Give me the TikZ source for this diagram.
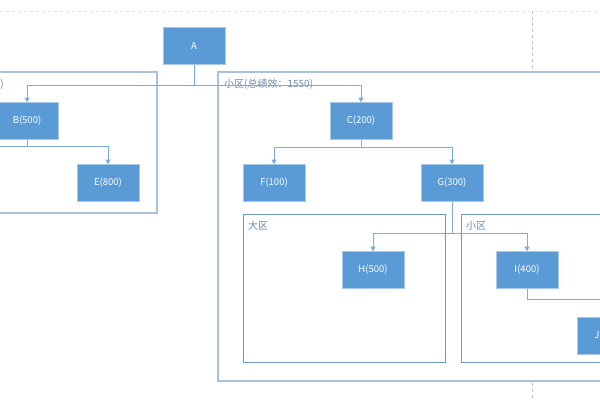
\documentclass[tikz,border=0pt]{standalone}
\usepackage{fontspec}
\setmainfont{Noto Sans CJK SC}
\usetikzlibrary{arrows.meta}
\definecolor{boxblue}{HTML}{5B9BD5}
\definecolor{boxedge}{HTML}{A9C8E6}
\definecolor{linkblue}{HTML}{7AADDC}
\definecolor{frameout}{HTML}{A9C1D9}
\definecolor{framein}{HTML}{6F95BC}
\definecolor{labelgrey}{HTML}{6A8AAA}
\tikzset{
  unit/.style={rectangle, fill=boxblue, draw=boxedge, line width=0.6pt,
    minimum width=62pt, minimum height=37pt, inner sep=0pt,
    text=white, font=\fontsize{9.5}{11}\selectfont},
  link/.style={draw=linkblue, line width=0.9pt},
  linkarrow/.style={link, -{Triangle[length=4.5pt,width=5pt]}},
  outerframe/.style={draw=frameout, line width=1.3pt, fill=white},
  innerframe/.style={draw=framein, line width=0.9pt},
  framelabel/.style={text=labelgrey, font=\fontsize{10}{12}\selectfont, inner sep=0pt}
}
\begin{document}
\begin{tikzpicture}[x=1pt,y=-1pt]
	\useasboundingbox (0,0) rectangle (600,400);
	\clip (0,0) rectangle (600,400);
	% page guides
	\draw[dashed, draw=gray!20, line width=0.6pt] (0,11) -- (600,11);
	\draw[dashed, draw=gray!50, line width=0.6pt] (532,11) -- (532,400);
	% frames
	\draw[outerframe] (-40,72) rectangle (157,213);
	\draw[outerframe] (218,72) rectangle (640,381);
	\draw[innerframe] (243,214) rectangle (445,362);
	\draw[innerframe] (461,214) rectangle (640,362);
	\node[framelabel, anchor=east] (lbl0) at (4,84) {)};
	\node[framelabel, anchor=west] (lbl1) at (224,84) {小区(总绩效：1550)};
	\node[framelabel, anchor=west] (lbl2) at (248,226) {大区};
	\node[framelabel, anchor=west] (lbl3) at (466,226) {小区};
	% units
	\node[unit] (A) at (194,46) {A};
	\node[unit] (B) at (27,121) {B(500)};
	\node[unit] (C) at (361,121) {C(200)};
	\node[unit] (E) at (108,183) {E(800)};
	\node[unit] (F) at (274,183) {F(100)};
	\node[unit] (G) at (452,183) {G(300)};
	\node[unit] (H) at (373,270) {H(500)};
	\node[unit] (I) at (527,270) {I(400)};
	\node[unit] (J) at (608,336) {J\phantom{(000)}};
	% links
	\coordinate (a1) at (194,85);
	\coordinate (b1) at (27,146);
	\coordinate (b2) at (-20,146);
	\coordinate (c1) at (361,147);
	\coordinate (g1) at (452,233);
	\coordinate (i1) at (527,299);
	\draw[link] (A) -- (a1);
	\draw[linkarrow] (a1) -| (B);
	\draw[linkarrow] (a1) -| (C);
	\draw[link] (B) -- (b1) -- (b2);
	\draw[linkarrow] (b1) -| (E);
	\draw[link] (C) -- (c1);
	\draw[linkarrow] (c1) -| (F);
	\draw[linkarrow] (c1) -| (G);
	\draw[link] (G) -- (g1);
	\draw[linkarrow] (g1) -| (H);
	\draw[linkarrow] (g1) -| (I);
	\draw[linkarrow] (I) -- (i1) -| (J);
\end{tikzpicture}
\end{document}
